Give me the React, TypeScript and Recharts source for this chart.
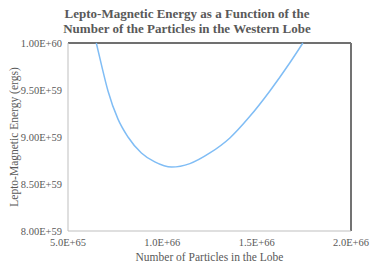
import { LineChart, Line, XAxis, YAxis, ReferenceLine, Label } from "recharts";

const particles = [
  6.5e65, 6.77e65, 7.12e65, 7.65e65, 8.18e65, 8.89e65, 9.6e65, 1.049e66,
  1.146e66, 1.252e66, 1.358e66, 1.464e66, 1.57e66, 1.676e66, 1.745e66,
];
const energy = [
  1.0e60, 9.77e59, 9.49e59, 9.19e59, 9.0e59, 8.83e59, 8.735e59, 8.68e59,
  8.717e59, 8.83e59, 8.99e59, 9.22e59, 9.49e59, 9.79e59, 1.0e60,
];
const xTicks = [5e65, 1e66, 1.5e66, 2e66];
const yTicks = [8e59, 8.5e59, 9e59, 9.5e59, 1e60];

const data = particles.map((n, i) => ({ n, e: energy[i] }));

const FONT = "'Liberation Serif', 'Times New Roman', serif";
const TEXT = "#595959";

const fmtX = (v: number) => v.toExponential(1).toUpperCase();
const fmtY = (v: number) => v.toExponential(2).toUpperCase();

export default function App() {
  return (
    <div style={{ position: "absolute", left: 0, top: 0, width: 374, height: 270, background: "#fff" }}>
      <div
        style={{
          position: "absolute",
          left: 0,
          top: 6,
          width: 374,
          textAlign: "center",
          fontFamily: FONT,
          fontWeight: "bold",
          fontSize: 13,
          lineHeight: "15px",
          color: TEXT,
        }}
      >
        Lepto-Magnetic Energy as a Function of the
        <br />
        Number of the Particles in the Western Lobe
      </div>
      <LineChart width={374} height={270} data={data} margin={{ top: 43, right: 23, left: 0, bottom: 0 }}>
        <XAxis
          dataKey="n"
          type="number"
          domain={[5e65, 2e66]}
          ticks={xTicks}
          tickFormatter={fmtX}
          height={39}
          tickLine={false}
          axisLine={{ stroke: "#bfbfbf" }}
          tick={{ fill: TEXT, fontSize: 10.5, fontFamily: FONT }}
          interval={0}
        >
          <Label
            value="Number of Particles in the Lobe"
            position="insideBottom"
            offset={9}
            style={{ fill: TEXT, fontSize: 11.5, fontFamily: FONT }}
          />
        </XAxis>
        <YAxis
          type="number"
          domain={[8e59, 1e60]}
          ticks={yTicks}
          tickFormatter={fmtY}
          width={68}
          tickLine={false}
          tickMargin={0}
          axisLine={{ stroke: "#bfbfbf" }}
          tick={{ fill: TEXT, fontSize: 10.5, fontFamily: FONT }}
          interval={0}
        >
          <Label
            value="Lepto-Magnetic Energy (ergs)"
            angle={-90}
            position="insideLeft"
            offset={14}
            style={{ fill: TEXT, fontSize: 11.5, fontFamily: FONT, textAnchor: "middle" }}
          />
        </YAxis>
        <ReferenceLine y={1e60} stroke="#404040" strokeWidth={1.5} />
        <ReferenceLine x={2e66} stroke="#737373" strokeWidth={2} />
        <Line
          dataKey="e"
          type="monotone"
          stroke="#80bdf5"
          strokeWidth={1.5}
          dot={false}
          isAnimationActive={false}
        />
      </LineChart>
    </div>
  );
}
